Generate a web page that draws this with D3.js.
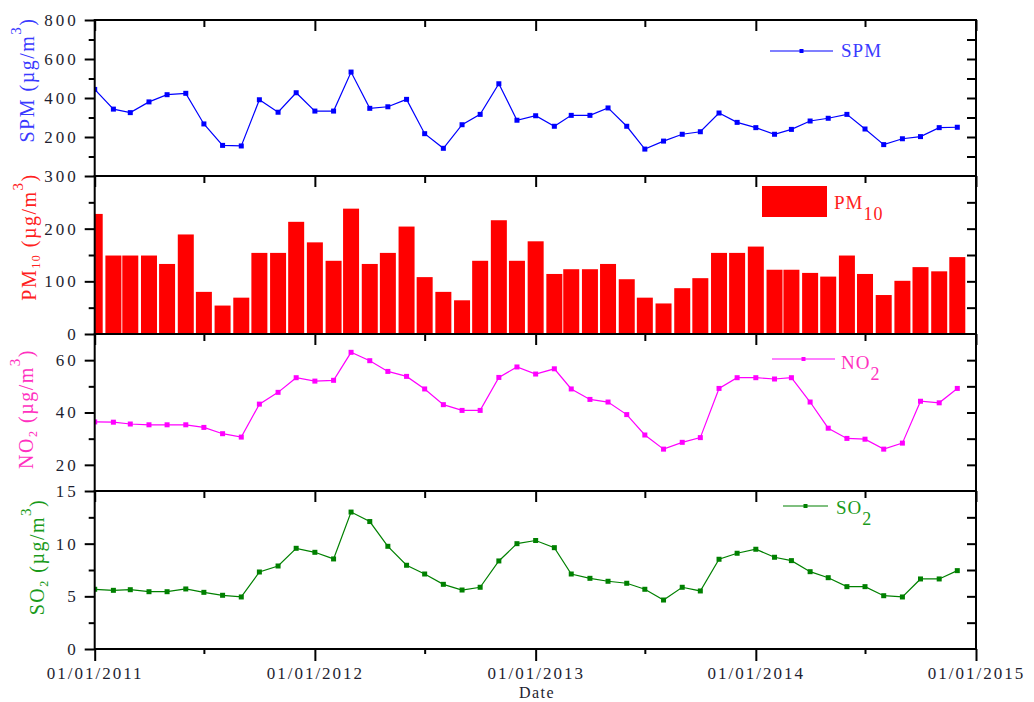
<!DOCTYPE html>
<html>
<head>
<meta charset="utf-8">
<script src="https://cdn.jsdelivr.net/npm/d3@7"></script>
<style>
body { margin: 0; background: #fff; }
text { font-family: "Liberation Serif", "Times New Roman", serif; }
</style>
</head>
<body>
<svg id="chart" width="1034" height="702"></svg>
<script>

// monthly values, Jan 2011 .. Dec 2014
var spm = [444, 343, 325, 380, 417, 424, 267, 157, 154, 391, 327, 427,
           333, 333, 533, 347, 355, 393, 217, 142, 263, 316, 473, 286,
           309, 255, 311, 311, 349, 255, 138, 179, 214, 227, 323, 275,
           248, 214, 239, 282, 296, 316, 241, 161, 191, 202, 248, 250];

var pm10 = [228, 149, 149, 149, 133, 189, 80, 54, 69, 154, 154, 213,
            174, 139, 238, 133, 154, 204, 108, 80, 64, 139, 216, 139,
            176, 114, 123, 123, 133, 104, 69, 58, 87, 106, 154, 154,
            166, 122, 122, 116, 109, 149, 114, 74, 101, 127, 119, 146];

var no2 = [36.4, 36.3, 35.6, 35.3, 35.3, 35.3, 34.3, 31.9, 30.6, 43.2, 47.7, 53.3,
           52.0, 52.3, 63.0, 59.8, 55.7, 53.8, 49.0, 43.0, 40.8, 40.8, 53.4, 57.4,
           54.7, 56.7, 49.0, 45.0, 44.0, 39.2, 31.4, 26.0, 28.6, 30.4, 49.2, 53.3,
           53.3, 52.8, 53.3, 44.0, 34.0, 30.1, 29.8, 26.0, 28.3, 44.3, 43.7, 49.2];

var so2 = [5.67, 5.57, 5.63, 5.44, 5.44, 5.70, 5.38, 5.10, 4.94, 7.31, 7.88, 9.56,
           9.18, 8.55, 13.0, 12.1, 9.75, 7.95, 7.12, 6.14, 5.60, 5.86, 8.36, 10.0,
           10.3, 9.62, 7.12, 6.71, 6.43, 6.24, 5.67, 4.65, 5.86, 5.51, 8.52, 9.09,
           9.47, 8.71, 8.39, 7.34, 6.77, 5.92, 5.92, 5.06, 4.94, 6.65, 6.65, 7.44];

var months = d3.timeMonth.range(new Date(2011, 0, 1), new Date(2015, 0, 1));

var yearTicks = [2011, 2012, 2013, 2014, 2015];
var yearLabels = ['01/01/2011', '01/01/2012', '01/01/2013', '01/01/2014', '01/01/2015'];
var halfYearTicks = [2011, 2012, 2013, 2014];

var spmLabels = [200, 400, 600, 800];
var spmMinor = [100, 300, 500, 700];
var spmRight = [100, 200, 300, 400, 500, 600, 700];

var pmLabels = [0, 100, 200, 300];
var pmMinor = [50, 150, 250];
var pmRight = [50, 100, 150, 200, 250];

var no2Labels = [20, 40, 60];
var no2Minor = [30, 50];
var no2Right = [20, 30, 40, 50, 60];

var so2Labels = [0, 5, 10, 15];
var so2Minor = [2.5, 7.5, 12.5];
var so2Right = [2.5, 5, 7.5, 10, 12.5];


var left = 94.7, right = 976;
var svg = d3.select('#chart');

var x = d3.scaleTime()
    .domain([new Date(2011, 0, 1), new Date(2015, 0, 1)])
    .range([left, right]);

var yearDates = yearTicks.map(function (y) { return new Date(y, 0, 1); });
var halfDates = halfYearTicks.map(function (y) { return new Date(y, 6, 1); });

var panels = [
    { name: 'SPM', values: spm, type: 'line', top: 20, bottom: 176, domain: [0, 800],
      labels: spmLabels, minor: spmMinor, rightTicks: spmRight, color: '#0000ff', text: '#3a3aff',
      legend: { x0: 770, x1: 833, y: 51, tx: 841, ty: 57 },
      title: { x: 34, y: 80, main: 'SPM', sub: null } },
    { name: 'PM', values: pm10, type: 'bar', top: 176, bottom: 334, domain: [0, 300],
      labels: pmLabels, minor: pmMinor, rightTicks: pmRight, color: '#ff0000', text: '#ff2020',
      legend: { x0: 762, x1: 827, y: 186, tx: 834, ty: 209, sub: '10' },
      title: { x: 36, y: 237, main: 'PM', sub: '10' } },
    { name: 'NO', values: no2, type: 'line', top: 334, bottom: 491, domain: [10, 70],
      labels: no2Labels, minor: no2Minor, rightTicks: no2Right, color: '#ff00ff', text: '#ff30c0',
      legend: { x0: 772, x1: 835, y: 359, tx: 841, ty: 369, sub: '2' },
      title: { x: 33, y: 409, main: 'NO', sub: '2' } },
    { name: 'SO', values: so2, type: 'line', top: 491, bottom: 649, domain: [0, 15],
      labels: so2Labels, minor: so2Minor, rightTicks: so2Right, color: '#008000', text: '#1a9a1a',
      legend: { x0: 783, x1: 828, y: 506, tx: 836, ty: 514, sub: '2' },
      title: { x: 44, y: 557, main: 'SO', sub: '2' } }
];

var defs = svg.append('defs');

panels.forEach(function (p, i) {
    var y = d3.scaleLinear().domain(p.domain).range([p.bottom, p.top]);
    var g = svg.append('g').attr('class', 'panel');

    defs.append('clipPath').attr('id', 'clip' + i)
        .append('rect')
        .attr('x', left).attr('y', p.top)
        .attr('width', right - left).attr('height', p.bottom - p.top);

    var plot = g.append('g').attr('clip-path', 'url(#clip' + i + ')');

    if (p.type === 'bar') {
        plot.selectAll('.bar')
            .data(p.values)
            .enter().append('rect')
            .attr('class', 'bar')
            .attr('x', function (d, j) { return x(months[j]) - 8; })
            .attr('width', 16)
            .attr('y', function (d) { return y(d); })
            .attr('height', function (d) { return p.bottom - y(d); })
            .attr('fill', p.color);
    } else {
        var line = d3.line()
            .x(function (d, j) { return x(months[j]); })
            .y(function (d) { return y(d); });

        plot.append('path')
            .datum(p.values)
            .attr('d', line)
            .attr('fill', 'none')
            .attr('stroke', p.color)
            .attr('stroke-width', 1.2);

        plot.selectAll('.pt')
            .data(p.values)
            .enter().append('rect')
            .attr('class', 'pt')
            .attr('x', function (d, j) { return x(months[j]) - 2.5; })
            .attr('y', function (d) { return y(d) - 2.5; })
            .attr('width', 5).attr('height', 5)
            .attr('fill', p.color);
    }

    // left axis: labelled majors outward, minors outward shorter
    var la = g.append('g').attr('transform', 'translate(' + left + ',0)')
        .call(d3.axisLeft(y).tickValues(p.labels).tickSize(10).tickPadding(6)
            .tickFormat(d3.format('d')));
    la.select('.domain').remove();
    la.selectAll('line').attr('stroke', '#000').attr('stroke-width', 2);
    la.selectAll('text')
        .attr('fill', '#1e1e30')
        .style('font-size', '17px')
        .style('letter-spacing', '3px');

    var lm = g.append('g').attr('transform', 'translate(' + left + ',0)')
        .call(d3.axisLeft(y).tickValues(p.minor).tickSize(6).tickFormat(''));
    lm.select('.domain').remove();
    lm.selectAll('line').attr('stroke', '#000').attr('stroke-width', 2);

    // right axis: ticks inward
    var ra = g.append('g').attr('transform', 'translate(' + right + ',0)')
        .call(d3.axisLeft(y).tickValues(p.rightTicks).tickSize(9).tickFormat(''));
    ra.select('.domain').remove();
    ra.selectAll('line').attr('stroke', '#000').attr('stroke-width', 2);

    // top axis: ticks inward
    var ta = g.append('g').attr('transform', 'translate(0,' + p.top + ')')
        .call(d3.axisBottom(x).tickValues(yearDates).tickSize(11).tickFormat(''));
    ta.select('.domain').remove();
    ta.selectAll('line').attr('stroke', '#000').attr('stroke-width', 2);
    var th = g.append('g').attr('transform', 'translate(0,' + p.top + ')')
        .call(d3.axisBottom(x).tickValues(halfDates).tickSize(7).tickFormat(''));
    th.select('.domain').remove();
    th.selectAll('line').attr('stroke', '#000').attr('stroke-width', 2);

    // frame
    g.append('rect')
        .attr('x', left).attr('y', p.top)
        .attr('width', right - left).attr('height', p.bottom - p.top)
        .attr('fill', 'none').attr('stroke', '#000').attr('stroke-width', 2);

    // legend
    var L = p.legend;
    if (p.type === 'bar') {
        g.append('rect')
            .attr('x', L.x0).attr('y', L.y)
            .attr('width', L.x1 - L.x0).attr('height', 31)
            .attr('fill', p.color);
    } else {
        g.append('line')
            .attr('x1', L.x0).attr('x2', L.x1).attr('y1', L.y).attr('y2', L.y)
            .attr('stroke', p.color).attr('stroke-width', 1.2);
        g.append('rect')
            .attr('x', (L.x0 + L.x1) / 2 - 2).attr('y', L.y - 2)
            .attr('width', 4).attr('height', 4)
            .attr('fill', p.color);
    }
    var lt = g.append('text')
        .attr('x', L.tx).attr('y', L.ty)
        .attr('fill', p.text)
        .style('font-size', '19px')
        .style('letter-spacing', '1px');
    lt.append('tspan').text(p.name);
    if (L.sub) {
        lt.append('tspan').attr('dy', 11).style('font-size', '18px').text(L.sub);
    }

    // y title
    var T = p.title;
    var tt = g.append('text')
        .attr('transform', 'translate(' + T.x + ',' + T.y + ') rotate(-90)')
        .attr('text-anchor', 'middle')
        .attr('fill', p.text)
        .style('font-size', '20px')
        .style('letter-spacing', '1.5px');
    tt.append('tspan').text(T.main);
    if (T.sub) {
        tt.append('tspan').attr('dy', 4).style('font-size', '12px').text(T.sub);
        tt.append('tspan').attr('dy', -4).text(' (\u00b5g/m');
    } else {
        tt.append('tspan').text(' (\u00b5g/m');
    }
    tt.append('tspan').attr('dy', -13).style('font-size', '15px').text('3');
    tt.append('tspan').attr('dy', 13).text(')');
});

// bottom date axis
var last = panels[panels.length - 1];
var ba = svg.append('g').attr('transform', 'translate(0,' + last.bottom + ')')
    .call(d3.axisBottom(x).tickValues(yearDates).tickSize(12).tickPadding(6)
        .tickFormat(function (d, i) { return yearLabels[i]; }));
ba.select('.domain').remove();
ba.selectAll('line').attr('stroke', '#000').attr('stroke-width', 2);
ba.selectAll('text')
    .attr('fill', '#1e1e30')
    .style('font-size', '17px')
    .style('letter-spacing', '2px');

var bh = svg.append('g').attr('transform', 'translate(0,' + last.bottom + ')')
    .call(d3.axisBottom(x).tickValues(halfDates).tickSize(5).tickFormat(''));
bh.select('.domain').remove();
bh.selectAll('line').attr('stroke', '#000').attr('stroke-width', 2);

svg.append('text')
    .attr('x', 537).attr('y', 698)
    .attr('text-anchor', 'middle')
    .attr('fill', '#1e1e30')
    .style('font-size', '16px')
    .style('letter-spacing', '1.5px')
    .text('Date');

</script>
</body>
</html>
